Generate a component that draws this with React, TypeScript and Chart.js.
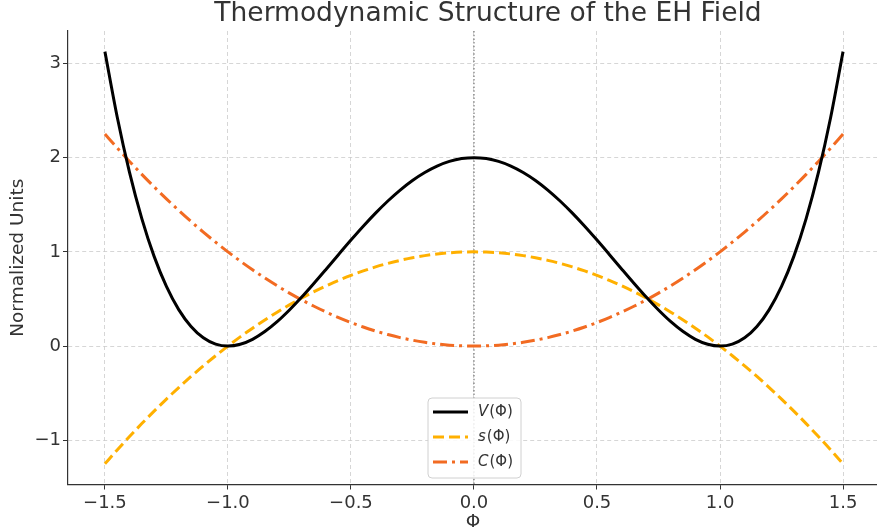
import React, { useEffect, useRef } from "react";
import { Chart, registerables } from "chart.js";

Chart.register(...registerables);

const phi = [
  -1.5, -1.45, -1.4, -1.35, -1.3, -1.25, -1.2, -1.15, -1.1, -1.05,
  -1.0, -0.95, -0.9, -0.85, -0.8, -0.75, -0.7, -0.65, -0.6, -0.55,
  -0.5, -0.45, -0.4, -0.35, -0.3, -0.25, -0.2, -0.15, -0.1, -0.05,
  0.0, 0.05, 0.1, 0.15, 0.2, 0.25, 0.3, 0.35, 0.4, 0.45,
  0.5, 0.55, 0.6, 0.65, 0.7, 0.75, 0.8, 0.85, 0.9, 0.95,
  1.0, 1.05, 1.1, 1.15, 1.2, 1.25, 1.3, 1.35, 1.4, 1.45, 1.5,
];

const vValues = [
  3.125, 2.431, 1.843, 1.353, 0.952, 0.633, 0.387, 0.208, 0.088, 0.021,
  0.0, 0.019, 0.072, 0.154, 0.259, 0.383, 0.52, 0.667, 0.819, 0.973,
  1.125, 1.272, 1.411, 1.54, 1.656, 1.758, 1.843, 1.911, 1.96, 1.99,
  2.0, 1.99, 1.96, 1.911, 1.843, 1.758, 1.656, 1.54, 1.411, 1.272,
  1.125, 0.973, 0.819, 0.667, 0.52, 0.383, 0.259, 0.154, 0.072, 0.019,
  0.0, 0.021, 0.088, 0.208, 0.387, 0.633, 0.952, 1.353, 1.843, 2.431, 3.125,
];

const sValues = [
  -1.25, -1.1025, -0.96, -0.8225, -0.69, -0.5625, -0.44, -0.3225, -0.21, -0.1025,
  0.0, 0.0975, 0.19, 0.2775, 0.36, 0.4375, 0.51, 0.5775, 0.64, 0.6975,
  0.75, 0.7975, 0.84, 0.8775, 0.91, 0.9375, 0.96, 0.9775, 0.99, 0.9975,
  1.0, 0.9975, 0.99, 0.9775, 0.96, 0.9375, 0.91, 0.8775, 0.84, 0.7975,
  0.75, 0.6975, 0.64, 0.5775, 0.51, 0.4375, 0.36, 0.2775, 0.19, 0.0975,
  0.0, -0.1025, -0.21, -0.3225, -0.44, -0.5625, -0.69, -0.8225, -0.96, -1.1025, -1.25,
];

const cValues = [
  2.25, 2.1025, 1.96, 1.8225, 1.69, 1.5625, 1.44, 1.3225, 1.21, 1.1025,
  1.0, 0.9025, 0.81, 0.7225, 0.64, 0.5625, 0.49, 0.4225, 0.36, 0.3025,
  0.25, 0.2025, 0.16, 0.1225, 0.09, 0.0625, 0.04, 0.0225, 0.01, 0.0025,
  0.0, 0.0025, 0.01, 0.0225, 0.04, 0.0625, 0.09, 0.1225, 0.16, 0.2025,
  0.25, 0.3025, 0.36, 0.4225, 0.49, 0.5625, 0.64, 0.7225, 0.81, 0.9025,
  1.0, 1.1025, 1.21, 1.3225, 1.44, 1.5625, 1.69, 1.8225, 1.96, 2.1025, 2.25,
];

const xTicks = [-1.5, -1.0, -0.5, 0.0, 0.5, 1.0, 1.5];
const yTicks = [-1, 0, 1, 2, 3];

const seriesNames = ["V", "s", "C"];
const seriesColors = ["#000000", "#FFB000", "#F26B22"];
const seriesDashes: number[][] = [[], [11, 5], [14, 5, 3, 5]];

const FONT = "'DejaVu Sans', sans-serif";
const TEXT = "#333333";

const fmtMinus = (s: string) => s.replace("-", "\u2212");

const decorPlugin = {
  id: "decor",
  beforeDatasetsDraw(chart: any) {
    const { ctx, chartArea, scales } = chart;
    const x0 = scales.x.getPixelForValue(0);
    ctx.save();
    ctx.strokeStyle = "#777777";
    ctx.lineWidth = 1.2;
    ctx.setLineDash([1.5, 2.2]);
    ctx.beginPath();
    ctx.moveTo(x0, chartArea.top);
    ctx.lineTo(x0, chartArea.bottom);
    ctx.stroke();
    ctx.restore();
  },
  afterDraw(chart: any) {
    const { ctx, chartArea } = chart;
    ctx.save();
    ctx.fillStyle = TEXT;
    ctx.font = `26.5px ${FONT}`;
    ctx.textAlign = "center";
    ctx.textBaseline = "middle";
    ctx.fillText("Thermodynamic Structure of the EH Field", 488, 14);
    ctx.font = `18.5px ${FONT}`;
    ctx.fillText("\u03A6", 473, 522);
    ctx.save();
    ctx.translate(18, (chartArea.top + chartArea.bottom) / 2);
    ctx.rotate(-Math.PI / 2);
    ctx.fillText("Normalized Units", 0, 0);
    ctx.restore();

    const bx = 428, by = 398, bw = 93, bh = 80, r = 4;
    ctx.fillStyle = "rgba(255,255,255,0.85)";
    ctx.strokeStyle = "#d0d0d0";
    ctx.lineWidth = 1;
    ctx.beginPath();
    ctx.moveTo(bx + r, by);
    ctx.lineTo(bx + bw - r, by);
    ctx.arcTo(bx + bw, by, bx + bw, by + r, r);
    ctx.lineTo(bx + bw, by + bh - r);
    ctx.arcTo(bx + bw, by + bh, bx + bw - r, by + bh, r);
    ctx.lineTo(bx + r, by + bh);
    ctx.arcTo(bx, by + bh, bx, by + bh - r, r);
    ctx.lineTo(bx, by + r);
    ctx.arcTo(bx, by, bx + r, by, r);
    ctx.closePath();
    ctx.fill();
    ctx.stroke();

    seriesNames.forEach((name, i) => {
      const y = 412 + i * 25;
      ctx.strokeStyle = seriesColors[i];
      ctx.lineWidth = 3;
      ctx.setLineDash(seriesDashes[i]);
      ctx.beginPath();
      ctx.moveTo(433, y);
      ctx.lineTo(468, y);
      ctx.stroke();
      ctx.setLineDash([]);
      ctx.fillStyle = TEXT;
      ctx.textAlign = "left";
      ctx.textBaseline = "middle";
      ctx.font = `italic 15px ${FONT}`;
      ctx.fillText(name, 478, y);
      const w = ctx.measureText(name).width;
      ctx.font = `15px ${FONT}`;
      ctx.fillText("(\u03A6)", 478 + w + 1, y);
    });
    ctx.restore();
  },
};

const gridOpts = {
  color: "#cccccc",
  lineWidth: 0.8,
  tickColor: "#333333",
  tickLength: 5,
  tickWidth: 1,
  tickBorderDash: [],
};

export default function App() {
  const ref = useRef<HTMLCanvasElement | null>(null);
  useEffect(() => {
    document.body.style.margin = "0";
    const canvas = ref.current!;
    const datasets = [vValues, sValues, cValues].map((vals, i) => ({
      label: seriesNames[i],
      data: phi.map((p, j) => ({ x: p, y: vals[j] })),
      borderColor: seriesColors[i],
      borderWidth: 3,
      borderDash: seriesDashes[i],
      pointRadius: 0,
      fill: false,
      cubicInterpolationMode: "monotone" as const,
      borderCapStyle: "butt" as const,
    }));
    const chart = new Chart(canvas, {
      type: "line",
      data: { datasets },
      options: {
        animation: false,
        responsive: false,
        maintainAspectRatio: false,
        layout: { padding: { top: 31, right: 0, left: 0, bottom: 0 } },
        plugins: {
          legend: { display: false },
          title: { display: false },
          tooltip: { enabled: false },
        },
        scales: {
          x: {
            type: "linear",
            min: -1.65,
            max: 1.638,
            afterBuildTicks: (scale: any) => {
              scale.ticks = xTicks.map((v) => ({ value: v }));
            },
            afterFit: (scale: any) => {
              scale.height = 45.5;
            },
            ticks: {
              color: TEXT,
              font: { family: FONT, size: 18 },
              padding: 3,
              maxRotation: 0,
              autoSkip: false,
              callback: (v: any) => fmtMinus(Number(v).toFixed(1)),
            },
            grid: gridOpts,
            border: { display: true, color: "#333333", width: 1.2, dash: [4, 3] },
          },
          y: {
            type: "linear",
            min: -1.469,
            max: 3.344,
            afterBuildTicks: (scale: any) => {
              scale.ticks = yTicks.map((v) => ({ value: v }));
            },
            afterFit: (scale: any) => {
              scale.width = 68;
            },
            ticks: {
              color: TEXT,
              font: { family: FONT, size: 18 },
              padding: 2,
              autoSkip: false,
              callback: (v: any) => fmtMinus(String(v)),
            },
            grid: gridOpts,
            border: { display: true, color: "#333333", width: 1.2, dash: [4, 3] },
          },
        },
      } as any,
      plugins: [decorPlugin],
    });
    return () => chart.destroy();
  }, []);
  return <canvas ref={ref} width={877} height={530} style={{ display: "block" }} />;
}
